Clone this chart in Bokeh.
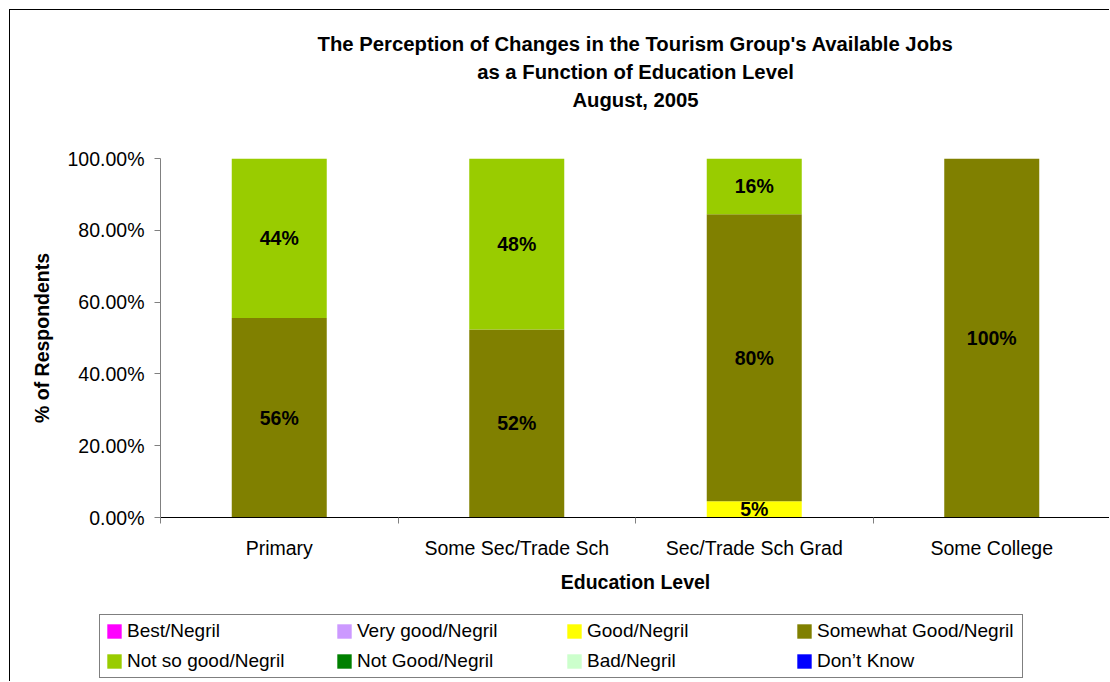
from bokeh.plotting import figure
from bokeh.layouts import column
from bokeh.models import (ColumnDataSource, Range1d, LinearAxis, FixedTicker,
                          NumeralTickFormatter, Legend, Title)
from bokeh.core.properties import value
from bokeh.embed import file_html
from bokeh.resources import INLINE

# ---- data ----
categories = ["Primary", "Some Sec/Trade Sch", "Sec/Trade Sch Grad", "Some College"]
series = ["Best/Negril", "Very good/Negril", "Good/Negril", "Somewhat Good/Negril",
          "Not so good/Negril", "Not Good/Negril", "Bad/Negril", "Don\u2019t Know"]
colors = ["#FF00FF", "#CC99FF", "#FFFF00", "#808000",
          "#99CC00", "#008000", "#CCFFCC", "#0000FF"]
best = [0, 0, 0, 0]
very_good = [0, 0, 0, 0]
good = [0, 0, 4.5, 0]
somewhat_good = [55.6, 52.4, 80.0, 100.0]
not_so_good = [44.4, 47.6, 15.5, 0]
not_good = [0, 0, 0, 0]
bad = [0, 0, 0, 0]
dont_know = [0, 0, 0, 0]
title_lines = ["The Perception of Changes in the Tourism Group's Available Jobs",
               "as a Function of Education Level",
               "August, 2005"]
y_title = "% of Respondents"
x_title = "Education Level"

values = [best, very_good, good, somewhat_good, not_so_good, not_good, bad, dont_know]
keys = ["s%d" % i for i in range(len(series))]

FONT = "Liberation Sans"

data = {"x": [i + 0.5 for i in range(len(categories))]}
for k, v in zip(keys, values):
    data[k] = [a / 100.0 for a in v]
source = ColumnDataSource(data)

p = figure(width=1100, height=600, output_backend="svg", toolbar_location=None,
           title=None, x_range=Range1d(0, len(categories)), y_range=Range1d(0, 1),
           x_axis_type=None, y_axis_type=None,
           min_border_left=150, min_border_right=0, min_border_top=148,
           min_border_bottom=93)
p.frame_align = False
p.styles = {"border-left": "1px solid black", "border-top": "1px solid black"}
p.outline_line_color = None
p.xgrid.visible = False
p.ygrid.visible = False
p.background_fill_color = "white"
p.border_fill_color = "white"

renderers = p.vbar_stack(keys, x="x", width=0.4, source=source, color=colors,
                         line_color=None)

# segment labels
lx, ly, lt = [], [], []
for i in range(len(categories)):
    cum = 0.0
    for v in values:
        val = v[i]
        if val > 0:
            lx.append(i + 0.5)
            ly.append((cum + val / 2.0) / 100.0)
            lt.append("%d%%" % int(val + 0.5))
        cum += val
p.text(x=lx, y=ly, text=lt, text_align="center", text_baseline="middle",
       text_font=value(FONT), text_font_style="bold", text_font_size="19.5px",
       text_color="black")

# axes
yaxis = LinearAxis(bounds=(0, 1), ticker=FixedTicker(ticks=[0, 0.2, 0.4, 0.6, 0.8, 1.0]),
                   formatter=NumeralTickFormatter(format="0.00%"))
yaxis.axis_line_color = "#808080"
yaxis.major_tick_line_color = "#808080"
yaxis.major_tick_out = 6
yaxis.major_tick_in = 0
yaxis.minor_tick_line_color = None
yaxis.major_label_standoff = 10
yaxis.major_label_text_font = FONT
yaxis.major_label_text_font_size = "19.5px"
yaxis.major_label_text_color = "black"
yaxis.axis_label = y_title
yaxis.axis_label_text_font = FONT
yaxis.axis_label_text_font_style = "bold"
yaxis.axis_label_text_font_size = "19.5px"
yaxis.axis_label_text_color = "black"
yaxis.axis_label_standoff = 12
p.add_layout(yaxis, "left")

xaxis = LinearAxis(ticker=FixedTicker(ticks=[i + 0.5 for i in range(len(categories))],
                                      minor_ticks=list(range(len(categories) + 1))),
                   major_label_overrides={i + 0.5: c for i, c in enumerate(categories)})
xaxis.axis_line_color = "black"
xaxis.major_tick_line_color = None
xaxis.major_tick_out = 0
xaxis.major_tick_in = 0
xaxis.minor_tick_line_color = "#808080"
xaxis.minor_tick_out = 6
xaxis.minor_tick_in = 0
xaxis.major_label_standoff = 13
xaxis.major_label_text_font = FONT
xaxis.major_label_text_font_size = "19.5px"
xaxis.major_label_text_color = "black"
xaxis.axis_label = x_title
xaxis.axis_label_text_font = FONT
xaxis.axis_label_text_font_style = "bold"
xaxis.axis_label_text_font_size = "19.5px"
xaxis.axis_label_text_color = "black"
xaxis.axis_label_standoff = 9
p.add_layout(xaxis, "below")

# titles: a spacer nearest the plot, then the lines from the bottom up
p.add_layout(Title(text=" ", text_font=FONT, text_font_size="20px", standoff=22), "above")
for line in reversed(title_lines):
    t = Title(text=line, align="center", text_font=FONT, text_font_style="bold",
              text_font_size="20.3px", text_color="black", standoff=4, offset=-68)
    p.add_layout(t, "above")

# legend panel (separate canvas below the chart)
lf = figure(width=1100, height=72, output_backend="svg", toolbar_location=None,
            title=None, x_range=Range1d(-10, -9), y_range=Range1d(-10, -9),
            x_axis_type=None, y_axis_type=None,
            min_border_left=0, min_border_right=0, min_border_top=0,
            min_border_bottom=0)
lf.frame_align = False
lf.styles = {"border-left": "1px solid black"}
lf.outline_line_color = None
lf.xgrid.visible = False
lf.ygrid.visible = False
lf.border_fill_color = "white"
leg_renderers = lf.vbar_stack(keys, x="x", width=0.4, source=source, color=colors,
                              line_color=None)

legend = Legend(items=[(s, [r]) for s, r in zip(series, leg_renderers)],
                orientation="horizontal", ncols=4, location=(89, 3))
legend.glyph_width = 18
legend.glyph_height = 18
legend.label_standoff = 4
legend.label_width = 200
legend.label_height = 20
legend.spacing = 8
legend.padding = 5
legend.margin = 0
legend.label_text_font = FONT
legend.label_text_font_size = "19px"
legend.label_text_color = "black"
legend.border_line_color = "black"
legend.border_line_width = 1
legend.background_fill_alpha = 1
lf.add_layout(legend, "center")

layout = column(p, lf, spacing=0)
layout.styles = {"margin-left": "9px", "margin-top": "9px"}

open("out.html", "w").write(file_html(layout, INLINE))
